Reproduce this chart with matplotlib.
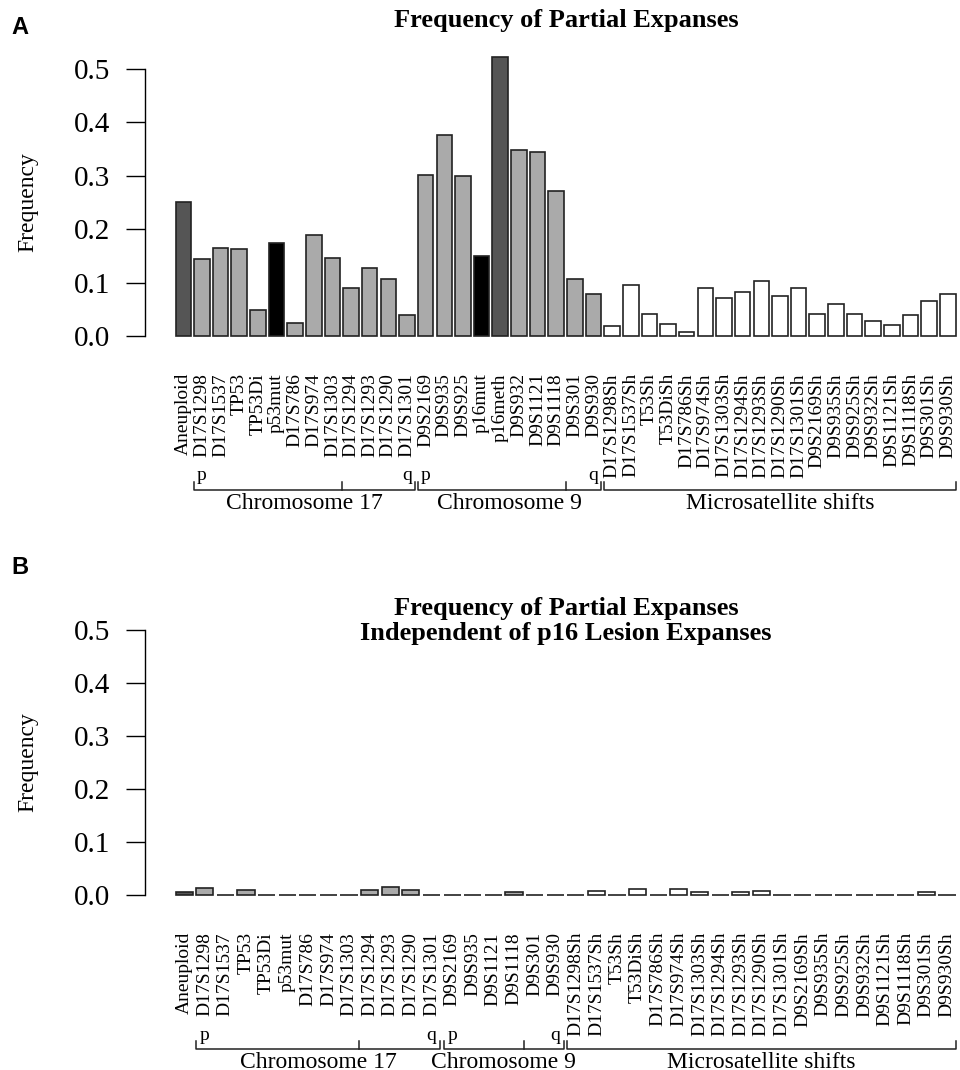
import matplotlib
matplotlib.use("Agg")
import matplotlib.pyplot as plt
from matplotlib.transforms import blended_transform_factory

# ---------------- data ----------------
labels_a = ["Aneuploid", "D17S1298", "D17S1537", "TP53", "TP53Di", "p53mut", "D17S786",
            "D17S974", "D17S1303", "D17S1294", "D17S1293", "D17S1290", "D17S1301",
            "D9S2169", "D9S935", "D9S925", "p16mut", "p16meth", "D9S932", "D9S1121",
            "D9S1118", "D9S301", "D9S930",
            "D17S1298Sh", "D17S1537Sh", "T53Sh", "T53DiSh", "D17S786Sh", "D17S974Sh",
            "D17S1303Sh", "D17S1294Sh", "D17S1293Sh", "D17S1290Sh", "D17S1301Sh",
            "D9S2169Sh", "D9S935Sh", "D9S925Sh", "D9S932Sh", "D9S1121Sh", "D9S1118Sh",
            "D9S301Sh", "D9S930Sh"]
values_a = [0.251, 0.145, 0.165, 0.162, 0.049, 0.174, 0.025, 0.189, 0.146, 0.090,
            0.128, 0.106, 0.039, 0.302, 0.376, 0.300, 0.149, 0.522, 0.348, 0.344,
            0.272, 0.106, 0.079,
            0.018, 0.096, 0.042, 0.022, 0.008, 0.089, 0.072, 0.082, 0.103, 0.074,
            0.090, 0.042, 0.059, 0.041, 0.029, 0.021, 0.040, 0.065, 0.078]

labels_b = ["Aneuploid", "D17S1298", "D17S1537", "TP53", "TP53Di", "p53mut", "D17S786",
            "D17S974", "D17S1303", "D17S1294", "D17S1293", "D17S1290", "D17S1301",
            "D9S2169", "D9S935", "D9S1121", "D9S1118", "D9S301", "D9S930",
            "D17S1298Sh", "D17S1537Sh", "T53Sh", "T53DiSh", "D17S786Sh", "D17S974Sh",
            "D17S1303Sh", "D17S1294Sh", "D17S1293Sh", "D17S1290Sh", "D17S1301Sh",
            "D9S2169Sh", "D9S935Sh", "D9S925Sh", "D9S932Sh", "D9S1121Sh", "D9S1118Sh",
            "D9S301Sh", "D9S930Sh"]
values_b = [0.005, 0.013, 0.0, 0.009, 0.0, 0.0, 0.0, 0.0, 0.0, 0.010, 0.016, 0.010,
            0.0, 0.0, 0.0, 0.0, 0.006, 0.0, 0.0,
            0.0, 0.008, 0.0, 0.011, 0.0, 0.011, 0.006, 0.0, 0.006, 0.008, 0.0,
            0.0, 0.0, 0.0, 0.0, 0.0, 0.0, 0.006, 0.0]

# kind of each marker (determines fill)
dark_kind = ["Aneuploid", "p16meth"]
black_kind = ["p53mut", "p16mut"]

# groups: (name, first label, last label, last label of p arm)
groups_a = [("Chromosome 17", "D17S1298", "D17S1301", "D17S1303"),
            ("Chromosome 9", "D9S2169", "D9S930", "D9S1118"),
            ("Microsatellite shifts", "D17S1298Sh", "D9S930Sh", None)]
groups_b = [("Chromosome 17", "D17S1298", "D17S1301", "D17S1303"),
            ("Chromosome 9", "D9S2169", "D9S930", "D9S1118"),
            ("Microsatellite shifts", "D17S1298Sh", "D9S930Sh", None)]

title_a = "Frequency of Partial Expanses"
title_b = "Frequency of Partial Expanses\nIndependent of p16 Lesion Expanses"
yticks = [0.0, 0.1, 0.2, 0.3, 0.4, 0.5]

# ---------------- style ----------------
W, H = 960, 1070
DPI = 100
PT = DPI / 72.0
SERIF = ["Liberation Serif", "DejaVu Serif"]
plt.rcParams["font.family"] = SERIF

fig = plt.figure(figsize=(W / DPI, H / DPI), dpi=DPI)
fig.patch.set_facecolor("white")


def color_for(lab):
    if lab in dark_kind:
        return "#555555"
    if lab in black_kind:
        return "#000000"
    if lab.endswith("Sh"):
        return "#ffffff"
    return "#aaaaaa"


def fy(px):
    return 1.0 - px / H


def panel(labels, values, groups, title, title_y, base_px, top_px, letter, letter_y):
    n = len(labels)
    ax_left_px, ax_right_px = 145.0, 960.0
    bar_l_px, bar_r_px = 175.5, 955.5
    ppu_x = (bar_r_px - bar_l_px) / (n - 1 + 0.8333)
    xl = -0.41667 - (bar_l_px - ax_left_px) / ppu_x
    xr = xl + (ax_right_px - ax_left_px) / ppu_x
    ppu_y = (base_px - top_px) / 0.5
    ax_top = top_px - 0.02 * ppu_y
    ax_bot = base_px + 0.02 * ppu_y
    ax = fig.add_axes([ax_left_px / W, fy(ax_bot), (ax_right_px - ax_left_px) / W,
                       (ax_bot - ax_top) / H])
    ax.set_xlim(xl, xr)
    ax.set_ylim(-0.02, 0.52)
    ax.patch.set_alpha(0)
    pos = list(range(n))
    ax.bar(pos, values, width=0.8333, color=[color_for(l) for l in labels],
           edgecolor="#222222", linewidth=1.2, clip_on=False)
    for s in ["top", "right", "bottom"]:
        ax.spines[s].set_visible(False)
    ax.spines["left"].set_bounds(0, 0.5)
    ax.spines["left"].set_linewidth(1.0)
    ax.set_yticks(yticks)
    ax.set_yticklabels(["%.1f" % v for v in yticks])
    ax.tick_params(axis="y", length=13.5, width=1.0, pad=11.5, labelsize=21)
    # x labels
    label_top_px = base_px + 37
    ax.set_xticks(pos)
    ax.set_xticklabels(labels, rotation=90, fontsize=14)
    ax.tick_params(axis="x", length=0, pad=(label_top_px - ax_bot) / PT)
    # y label
    fig.text(28 / W, fy((top_px + base_px) / 2), "Frequency", rotation=90,
             ha="center", va="center", fontsize=17)
    # brackets
    tr = blended_transform_factory(ax.transData, fig.transFigure)
    br_y = base_px + 154
    tk_y = base_px + 146
    pq_y = base_px + 140
    grp_y = base_px + 157
    for name, first, last, psplit in groups:
        i0 = labels.index(first)
        i1 = labels.index(last)
        x0 = i0 - 0.41667
        x1 = i1 + 0.41667
        kw = dict(color="#222222", lw=1.1, transform=tr, clip_on=False)
        ax.plot([x0, x0, x1, x1], [fy(tk_y), fy(br_y), fy(br_y), fy(tk_y)], **kw)
        if psplit is not None:
            xm = labels.index(psplit) + 0.5
            ax.plot([xm, xm], [fy(br_y), fy(tk_y)], **kw)
            ax.text(i0, fy(pq_y), "p", transform=tr, ha="center", va="center", fontsize=14)
            ax.text(i1, fy(pq_y), "q", transform=tr, ha="center", va="center", fontsize=14)
        ax.text((x0 + x1) / 2, fy(grp_y), name, transform=tr, ha="center", va="top",
                fontsize=17)
    # title & panel letter
    fig.text(566 / W, fy(title_y), title, ha="center", va="center", fontsize=19,
             fontweight="bold", linespacing=1.1)
    fig.text(11 / W, fy(letter_y), letter, ha="left", va="center", fontsize=17,
             fontweight="bold", family=["Liberation Sans", "DejaVu Sans"])
    return ax


panel(labels_a, values_a, groups_a, title_a, 20, 336, 69, "A", 27)
panel(labels_b, values_b, groups_b, title_b, 621, 895, 630, "B", 568)

fig.savefig("out.png", dpi=DPI, facecolor="white")
